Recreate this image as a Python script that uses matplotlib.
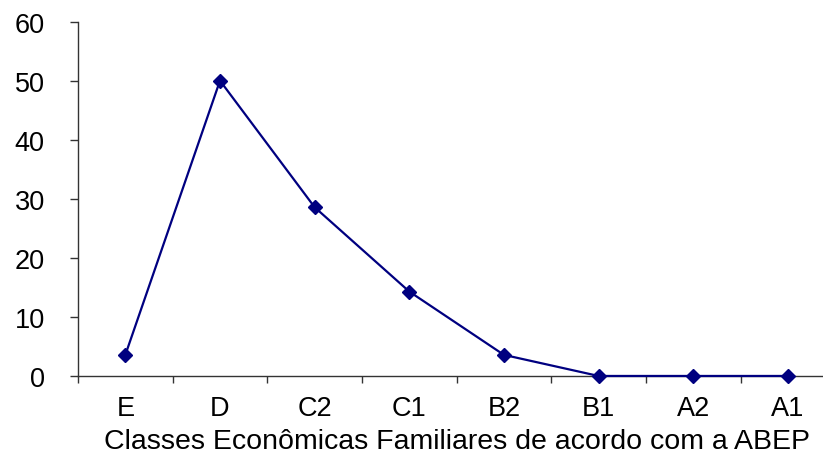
import numpy as np
from matplotlib import pyplot as plt

plt.rcParams['font.family'] = ['Liberation Sans', 'DejaVu Sans']

classes = ["E", "D", "C2", "C1", "B2", "B1", "A2", "A1"]
percent = [3.57, 50.0, 28.57, 14.29, 3.57, 0.0, 0.0, 0.0]
y_ticks = [0, 10, 20, 30, 40, 50, 60]

fig = plt.figure(figsize=(8.23, 4.52), dpi=100)
ax = fig.add_axes([0.0948, 0.166, 0.92, 0.784])

x = np.arange(len(classes))
ax.plot(x, percent, "-D", color="#000080", lw=1.6, ms=7.5, clip_on=False, zorder=3)

ax.set_xlim(-0.5, len(classes) - 0.5)
ax.set_ylim(0, 60)
ax.set_yticks(y_ticks)
ax.tick_params(axis="y", labelsize=19.5, length=6, width=1, pad=18, color="#333333")

# labels in the middle of each category, ticks on the boundaries
ax.set_xticks(np.arange(len(classes) + 1) - 0.5)
ax.set_xticklabels([])
ax.set_xticks(x, minor=True)
ax.set_xticklabels(classes, minor=True)
ax.tick_params(axis="x", which="major", length=5, width=1, color="#333333")
ax.tick_params(axis="x", which="minor", length=0, labelsize=19.5, pad=14)

ax.set_xlabel("Classes Econômicas Familiares de acordo com a ABEP", fontsize=20.5, labelpad=4.5)

for s in ["top", "right"]:
    ax.spines[s].set_visible(False)
for s in ["left", "bottom"]:
    ax.spines[s].set_color("#333333")
    ax.spines[s].set_linewidth(1)

fig.savefig("out.png", dpi=100)
